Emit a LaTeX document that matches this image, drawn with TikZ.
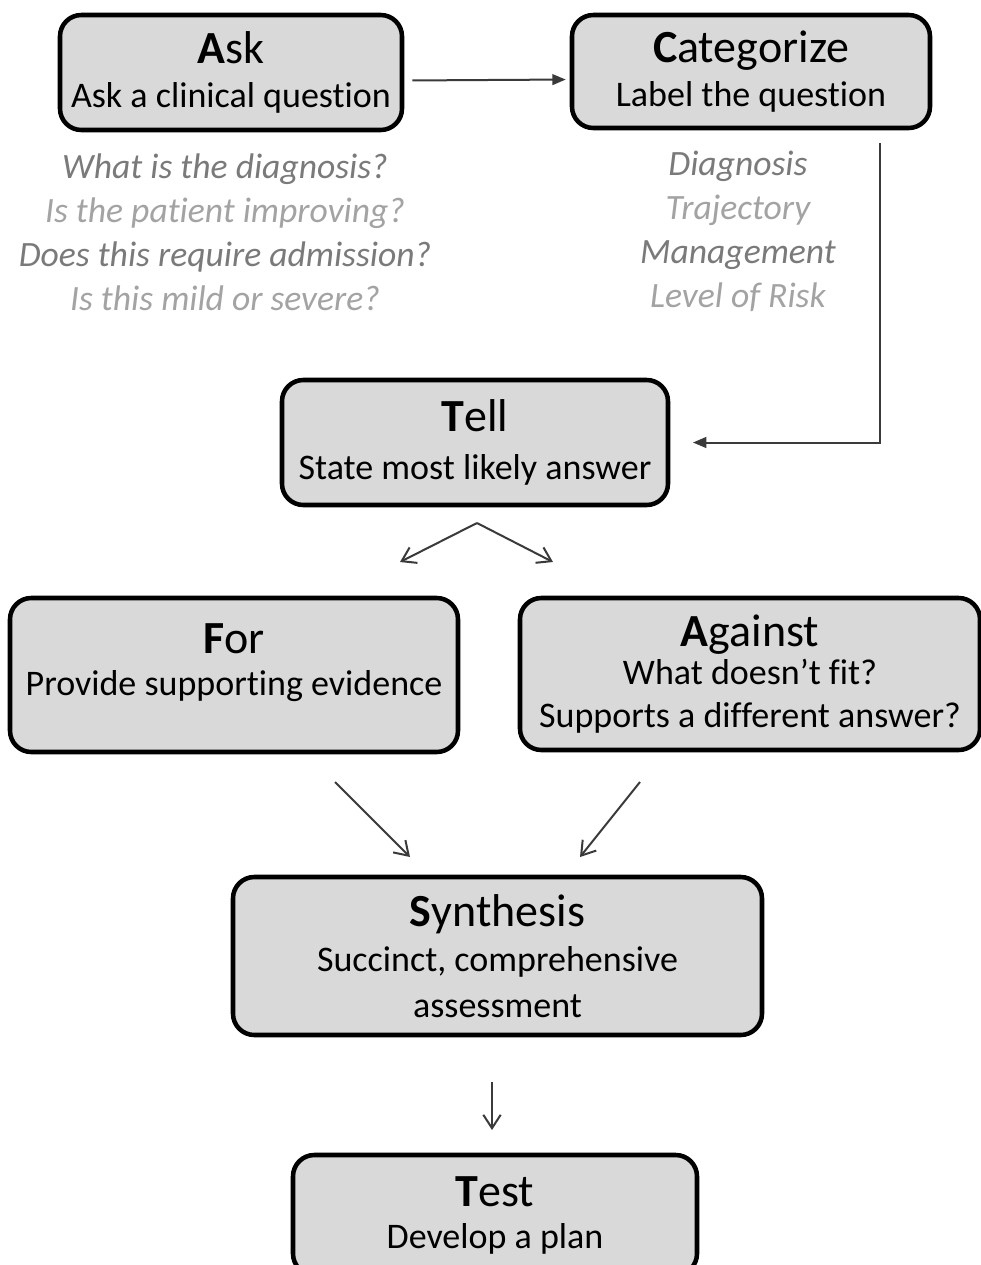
\documentclass[tikz,border=0pt]{standalone}
\usepackage{fontspec}
\setmainfont{Carlito}[Ligatures=NoCommon]
\usetikzlibrary{arrows.meta}
\definecolor{boxfill}{HTML}{D9D9D9}
\definecolor{qdark}{HTML}{7A7A7A}
\definecolor{qlight}{HTML}{A3A3A3}
\definecolor{connc}{HTML}{3A3A3A}
\newcommand\boxtitle[2]{{\fontsize{34.5}{33}\selectfont\textbf{#1}#2}}
\begin{document}
\begin{tikzpicture}[x=0.75pt,y=-0.75pt,
  stepbox/.style={draw=black, line width=3.4pt, fill=boxfill, rounded corners=16pt,
    align=center, inner sep=0pt, font=\fontsize{27}{33}\selectfont},
  conn/.style={draw=connc, line width=1.5pt},
  vhead/.style={conn, -{Straight Barb[length=10pt,width=13pt,line width=1.5pt]}},
  fhead/.style={conn, -{Triangle[length=10pt,width=8pt]}},
  qlist/.style={align=center, inner sep=0pt, anchor=north,
    font=\fontsize{26.7}{33}\selectfont\itshape}]
\useasboundingbox (0,0) rectangle (981,1265);
\fill[white] (0,0) rectangle (981,1265);

% boxes
\node[stepbox, minimum width=256.5pt, minimum height=86.25pt] (ask) at (231,72.5)
  {\boxtitle{A}{sk}\\Ask a clinical question};
\node[stepbox, minimum width=268.5pt, minimum height=84.75pt] (cat) at (751,71.5)
  {\boxtitle{C}{ategorize}\\Label the question};
\node[stepbox, minimum width=289.5pt, minimum height=93.75pt] (tell) at (475,442.5)
  {\boxtitle{T}{ell}\\[3pt]State most likely answer};
\node[stepbox, minimum width=336pt, minimum height=115.5pt] (for) at (234,675)
  {\boxtitle{F}{or}\\[-1pt]Provide supporting evidence\rule[-23pt]{0pt}{23pt}};
\node[stepbox, minimum width=345pt, minimum height=114pt] (against) at (750,674)
  {\boxtitle{A}{gainst}\\[-4.5pt]What doesn’t fit?\\[-0.5pt]Supports a different answer?};
\node[stepbox, minimum width=396.75pt, minimum height=118.5pt] (synth) at (497.5,956)
  {\boxtitle{S}{ynthesis}\\[0.75pt]Succinct, comprehensive\\[1.5pt]assessment};
\node[stepbox, minimum width=303pt, minimum height=90pt] (test) at (495,1215)
  {\boxtitle{T}{est}\\[-1.5pt]Develop a plan};

% question lists
\node[qlist] (askq) at (225,154)
  {\textcolor{qdark}{What is the diagnosis?}\\\textcolor{qlight}{Is the patient improving?}\\
   \textcolor{qdark}{Does this require admission?}\\\textcolor{qlight}{Is this mild or severe?}};
\node[qlist] (catq) at (738,151)
  {\textcolor{qdark}{Diagnosis}\\\textcolor{qlight}{Trajectory}\\
   \textcolor{qdark}{Management}\\\textcolor{qlight}{Level of Risk}};

% connectors
\draw[fhead, shorten <=6pt, shorten >=3pt] ([yshift=-6pt]ask.east) -- ([yshift=-6pt]cat.west);
\coordinate (elb) at (880,440);
\draw[fhead, shorten <=9.5pt, shorten >=17pt] (cat.south -| elb) |- (tell.east);

\coordinate (apex) at (477,523);
\coordinate (fortip) at (400,562);
\coordinate (agtip) at (553,562);
\draw[vhead] (apex) -- (fortip);
\draw[vhead] (apex) -- (agtip);

\coordinate (forout) at (335,782);
\coordinate (forin) at (410,857);
\coordinate (agout) at (640,782);
\coordinate (agin) at (580,857);
\draw[vhead] (forout) -- (forin);
\draw[vhead] (agout) -- (agin);

\coordinate (synout) at (492,1082);
\coordinate (testin) at (492,1130);
\draw[vhead] (synout) -- (testin);
\end{tikzpicture}
\end{document}
